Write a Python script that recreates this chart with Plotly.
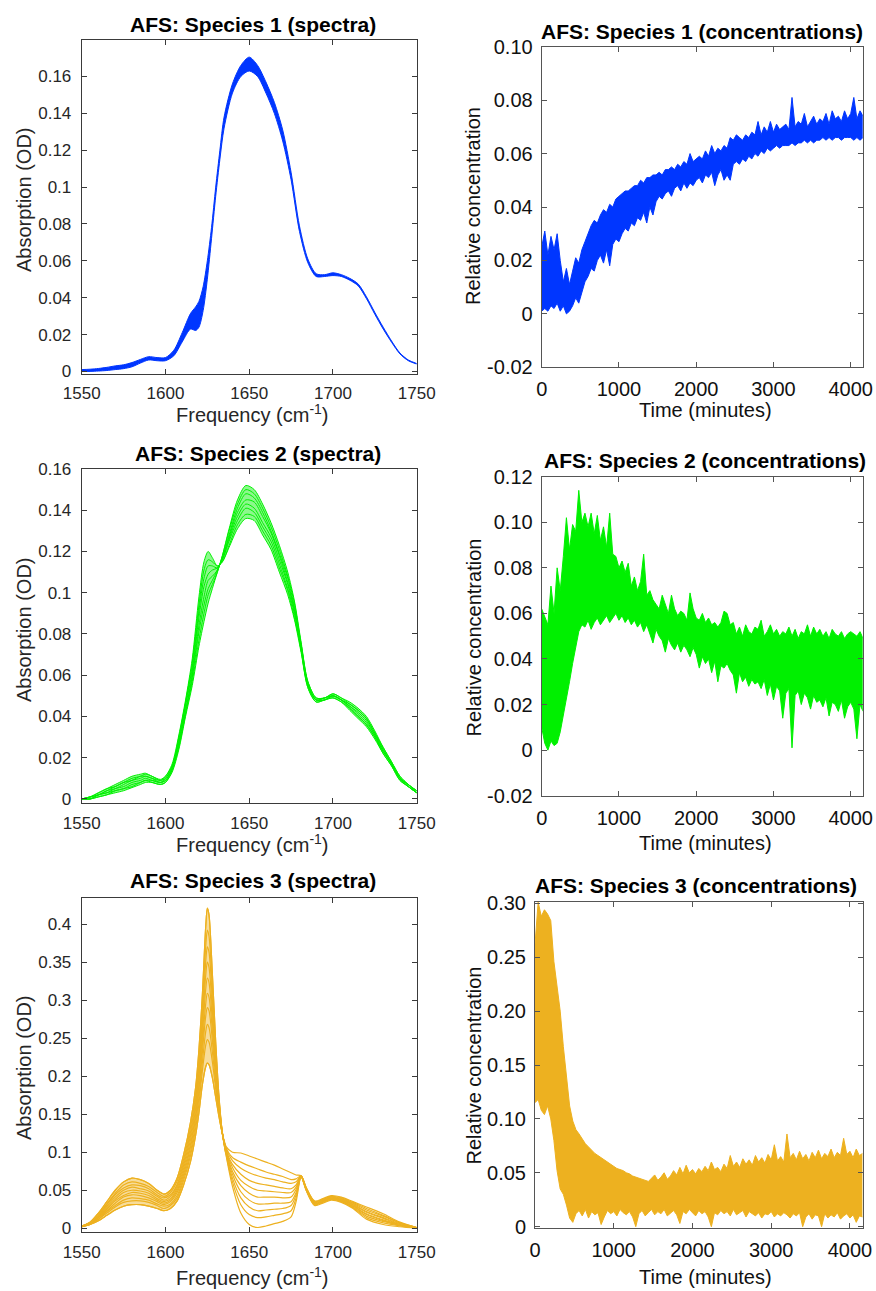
import plotly.graph_objects as go

FONT = "Liberation Sans, Arial, Helvetica, sans-serif"
BLUE = "#0036ff"
GREEN = "#00f000"
GOLD = "#EDB120"

# ---------------- Species 1 spectra (envelope of the family) ----------------
freq1 = [1550, 1555, 1560, 1565, 1570, 1575, 1580, 1585, 1590, 1595,
         1600, 1605, 1610, 1615, 1618, 1620, 1622.5, 1625, 1627.5, 1630,
         1632.5, 1635, 1640, 1645, 1650, 1655, 1660, 1665, 1670, 1675,
         1680, 1685, 1690, 1695, 1700, 1705, 1710, 1715, 1720, 1725,
         1730, 1735, 1740, 1745, 1750]
spec1_high = [.0010, .0012, .0016, .0022, .0030, .0036, .0048, .0065, .0080, .0075,
              .0075, .0115, .0210, .0315, .0350, .0380, .0460, .0600, .0780, .1000,
              .1200, .1380, .1560, .1660, .1705, .1660, .1570, .1460, .1310, .1080,
              .0790, .0610, .0530, .0525, .0535, .0525, .0505, .0475, .0405, .0320,
              .0240, .0165, .0100, .0062, .0043]
spec1_low = [.0000, .0000, .0002, .0005, .0010, .0015, .0025, .0045, .0062, .0058,
             .0058, .0085, .0160, .0230, .0222, .0240, .0330, .0500, .0720, .0950,
             .1150, .1320, .1510, .1600, .1630, .1600, .1510, .1400, .1250, .1040,
             .0760, .0590, .0515, .0515, .0520, .0515, .0495, .0465, .0395, .0310,
             .0230, .0158, .0095, .0058, .0040]

# ---------------- Species 2 spectra ----------------
freq2 = [1550, 1555, 1560, 1565, 1570, 1575, 1580, 1585, 1588, 1592,
         1597, 1600, 1604, 1608, 1612, 1616, 1620, 1623, 1625.5, 1628,
         1631, 1634, 1638, 1643, 1648, 1653, 1658, 1663, 1668, 1673,
         1677, 1681, 1685, 1690, 1695, 1700, 1705, 1710, 1715, 1720,
         1725, 1730, 1735, 1740, 1745, 1750]
spec2_a = [.000, .000, .001, .002, .003, .004, .0055, .007, .008, .008,
           .007, .008, .013, .024, .040, .055, .074, .086, .095, .102,
           .110, .118, .131, .145, .152, .150, .143, .134, .123, .110,
           .096, .076, .057, .049, .049, .051, .049, .047, .044, .040,
           .033, .025, .018, .011, .007, .004]
spec2_b = [.000, .000, .001, .002, .004, .005, .006, .008, .009, .008,
           .007, .008, .014, .025, .041, .057, .077, .090, .099, .104,
           .110, .118, .130, .143, .150, .148, .141, .132, .121, .108,
           .095, .075, .057, .049, .049, .051, .049, .046, .043, .039,
           .032, .025, .018, .011, .007, .004]
spec2_c = [.000, .000, .002, .003, .004, .005, .007, .008, .009, .009,
           .008, .009, .014, .026, .042, .059, .081, .094, .102, .106,
           .111, .117, .128, .141, .148, .146, .139, .130, .119, .107,
           .093, .075, .056, .048, .049, .050, .048, .046, .043, .039,
           .032, .024, .017, .010, .007, .004]
spec2_d = [.000, .000, .002, .003, .005, .006, .008, .009, .010, .009,
           .008, .009, .015, .027, .043, .060, .084, .098, .106, .108,
           .111, .117, .127, .139, .145, .144, .137, .129, .118, .105,
           .092, .074, .056, .048, .049, .050, .048, .045, .042, .038,
           .031, .024, .017, .010, .007, .003]
spec2_e = [.000, .001, .002, .004, .005, .007, .009, .010, .011, .010,
           .008, .010, .015, .028, .045, .062, .088, .103, .109, .111,
           .112, .116, .126, .137, .143, .141, .134, .127, .116, .104,
           .091, .073, .055, .048, .048, .050, .048, .045, .041, .037,
           .031, .023, .017, .010, .006, .003]
spec2_f = [.000, .001, .002, .004, .006, .008, .009, .011, .011, .010,
           .009, .010, .016, .029, .046, .064, .091, .107, .113, .113,
           .112, .116, .125, .135, .141, .139, .132, .125, .114, .102,
           .090, .072, .055, .048, .048, .050, .048, .044, .040, .036,
           .030, .023, .017, .010, .006, .003]
spec2_g = [.000, .001, .003, .005, .006, .008, .010, .011, .012, .011,
           .009, .011, .016, .030, .047, .066, .094, .111, .116, .115,
           .113, .115, .123, .133, .138, .137, .130, .123, .112, .101,
           .088, .072, .054, .047, .048, .049, .047, .044, .040, .036,
           .030, .022, .016, .009, .006, .003]
spec2_h = [.000, .001, .003, .005, .007, .009, .011, .012, .0125, .011,
           .0095, .011, .017, .031, .048, .068, .098, .115, .120, .117,
           .113, .115, .122, .131, .136, .135, .128, .121, .110, .099,
           .087, .071, .054, .047, .048, .049, .047, .043, .039, .035,
           .029, .022, .016, .009, .006, .003]

# ---------------- Species 3 spectra ----------------
freq3 = [1550, 1555, 1560, 1565, 1570, 1575, 1580, 1585, 1590, 1595,
         1599, 1603, 1607, 1611, 1615, 1618, 1620, 1622, 1624, 1625,
         1626, 1628, 1630, 1632, 1634, 1636, 1640, 1645, 1650, 1655,
         1660, 1665, 1670, 1675, 1678, 1681, 1684, 1689, 1694, 1699,
         1705, 1712, 1720, 1730, 1740, 1750]
spec3_01 = [.002, .005, .010, .017, .024, .029, .031, .031, .029, .026,
            .023, .026, .036, .058, .088, .122, .152, .188, .212, .217,
            .215, .198, .172, .146, .124, .108, .100, .099, .095, .091,
            .087, .083, .078, .073, .070, .069, .054, .036, .039, .043,
            .041, .035, .028, .019, .008, .001]
spec3_02 = [.002, .005, .012, .020, .028, .034, .036, .036, .034, .030,
            .026, .030, .040, .064, .096, .131, .164, .206, .240, .248,
            .245, .219, .183, .150, .124, .107, .093, .087, .082, .078,
            .074, .071, .068, .064, .065, .069, .053, .035, .038, .042,
            .040, .034, .026, .017, .007, .001]
spec3_03 = [.002, .006, .012, .022, .030, .037, .040, .039, .037, .032,
            .029, .032, .043, .068, .101, .138, .173, .217, .258, .268,
            .264, .232, .190, .152, .124, .106, .089, .079, .073, .069,
            .066, .064, .061, .059, .061, .069, .053, .035, .038, .042,
            .039, .033, .024, .016, .007, .001]
spec3_04 = [.002, .006, .014, .023, .033, .041, .044, .043, .040, .035,
            .031, .035, .047, .072, .107, .145, .182, .230, .278, .290,
            .286, .247, .198, .155, .124, .104, .084, .071, .063, .059,
            .057, .055, .053, .052, .057, .069, .053, .034, .037, .041,
            .038, .032, .022, .014, .006, .001]
spec3_05 = [.002, .006, .014, .025, .036, .043, .047, .046, .043, .037,
            .033, .037, .050, .076, .111, .150, .189, .241, .294, .309,
            .304, .260, .205, .158, .124, .103, .080, .063, .055, .050,
            .049, .048, .047, .047, .054, .068, .052, .033, .036, .040,
            .038, .031, .021, .013, .005, .000]
spec3_06 = [.003, .007, .015, .027, .038, .047, .050, .049, .046, .039,
            .035, .039, .053, .080, .117, .157, .198, .252, .313, .329,
            .323, .273, .212, .160, .125, .103, .075, .056, .046, .041,
            .041, .041, .040, .041, .051, .068, .052, .033, .036, .040,
            .037, .030, .019, .011, .005, .000]
spec3_07 = [.003, .007, .016, .029, .041, .050, .054, .052, .049, .042,
            .037, .042, .056, .084, .122, .163, .206, .264, .331, .350,
            .343, .287, .219, .163, .125, .102, .071, .048, .037, .032,
            .032, .033, .033, .035, .047, .068, .051, .032, .035, .039,
            .036, .029, .018, .010, .004, .000]
spec3_08 = [.003, .007, .017, .031, .044, .053, .057, .056, .052, .044,
            .040, .044, .058, .088, .127, .169, .214, .276, .349, .370,
            .363, .301, .227, .166, .125, .101, .066, .040, .028, .023,
            .024, .025, .026, .030, .044, .068, .051, .032, .035, .039,
            .036, .028, .016, .009, .004, .000]
spec3_09 = [.003, .008, .019, .032, .046, .057, .061, .059, .055, .047,
            .042, .047, .062, .092, .133, .176, .223, .289, .369, .392,
            .384, .316, .235, .168, .125, .099, .061, .031, .018, .014,
            .015, .017, .019, .023, .040, .068, .050, .031, .034, .038,
            .035, .027, .014, .007, .003, .000]
spec3_10 = [.003, .008, .020, .035, .050, .061, .066, .064, .059, .050,
            .045, .050, .066, .098, .140, .185, .235, .305, .395, .421,
            .412, .335, .245, .172, .125, .098, .055, .020, .005, .001,
            .003, .006, .009, .015, .035, .068, .050, .030, .033, .037,
            .034, .026, .012, .005, .002, .000]

# ---------------- Concentrations (upper / lower edges of the trace bundle) ----------------
time_c = [0, 40, 80, 120, 160, 200, 240, 280, 320, 360,
          400, 440, 480, 520, 560, 600, 640, 680, 720, 760,
          800, 840, 880, 920, 960, 1000, 1040, 1080, 1120, 1160,
          1200, 1240, 1280, 1320, 1360, 1400, 1440, 1480, 1520, 1560,
          1600, 1640, 1680, 1720, 1760, 1800, 1840, 1880, 1920, 1960,
          2000, 2040, 2080, 2120, 2160, 2200, 2240, 2280, 2320, 2360,
          2400, 2440, 2480, 2520, 2560, 2600, 2640, 2680, 2720, 2760,
          2800, 2840, 2880, 2920, 2960, 3000, 3040, 3080, 3120, 3160,
          3200, 3240, 3280, 3320, 3360, 3400, 3440, 3480, 3520, 3560,
          3600, 3640, 3680, 3720, 3760, 3800, 3840, 3880, 3920, 3960,
          4000, 4040, 4080, 4120, 4160]

conc1_upper = [.025, .031, .022, .029, .024, .030, .020, .012, .017, .011,
               .016, .021, .019, .024, .027, .030, .033, .035, .034, .037,
               .039, .038, .041, .040, .043, .044, .045, .046, .046, .047,
               .048, .048, .050, .049, .051, .051, .052, .052, .053, .052,
               .054, .054, .055, .054, .056, .055, .057, .056, .060, .057,
               .058, .059, .058, .061, .059, .063, .060, .062, .061, .063,
               .062, .066, .065, .067, .066, .065, .067, .066, .068, .067,
               .072, .067, .070, .068, .072, .068, .071, .069, .070, .071,
               .069, .081, .070, .072, .071, .075, .070, .072, .074, .071,
               .073, .072, .075, .071, .076, .073, .074, .072, .076, .073,
               .075, .081, .073, .076, .074]
conc1_lower = [.001, .002, .001, .003, .002, .004, .001, .003, .000, .001,
               .003, .006, .004, .008, .012, .014, .017, .016, .020, .022,
               .019, .024, .018, .026, .028, .027, .030, .032, .031, .034,
               .033, .036, .035, .038, .034, .040, .037, .042, .044, .043,
               .045, .046, .044, .047, .048, .046, .049, .047, .049, .048,
               .050, .051, .049, .052, .051, .053, .048, .052, .054, .050,
               .052, .050, .056, .057, .056, .058, .057, .059, .058, .060,
               .059, .061, .060, .062, .061, .062, .063, .062, .063, .063,
               .063, .064, .063, .064, .064, .065, .064, .065, .064, .065,
               .065, .066, .065, .066, .065, .066, .066, .065, .066, .066,
               .066, .065, .066, .065, .066]

conc2_upper = [.062, .058, .055, .072, .060, .080, .070, .085, .102, .088,
               .099, .096, .114, .100, .104, .098, .104, .095, .103, .092,
               .098, .089, .104, .086, .085, .080, .083, .078, .082, .072,
               .076, .070, .074, .086, .068, .070, .066, .064, .062, .068,
               .064, .060, .068, .062, .059, .061, .060, .057, .069, .062,
               .058, .057, .060, .056, .058, .055, .056, .054, .056, .061,
               .060, .055, .056, .051, .054, .050, .055, .052, .051, .054,
               .053, .057, .050, .052, .055, .051, .053, .050, .052, .051,
               .054, .050, .053, .049, .052, .051, .055, .050, .054, .051,
               .053, .050, .052, .049, .053, .051, .050, .052, .049, .051,
               .052, .051, .050, .052, .049]
conc2_lower = [.010, .003, .000, .004, .002, .003, .008, .015, .022, .030,
               .038, .045, .052, .055, .054, .057, .053, .056, .058, .055,
               .057, .059, .056, .058, .060, .057, .059, .056, .058, .055,
               .057, .054, .056, .052, .055, .051, .047, .053, .050, .048,
               .043, .049, .046, .044, .047, .043, .046, .044, .041, .045,
               .042, .036, .041, .038, .040, .034, .039, .030, .037, .036,
               .038, .035, .033, .025, .034, .030, .032, .028, .031, .029,
               .030, .027, .031, .024, .029, .022, .028, .026, .014, .025,
               .027, .001, .024, .026, .020, .025, .023, .018, .024, .021,
               .022, .019, .023, .015, .021, .020, .017, .022, .014, .019,
               .021, .018, .005, .020, .017]

conc3_upper = [.262, .301, .288, .294, .290, .284, .246, .225, .200, .167,
               .138, .112, .098, .090, .086, .081, .077, .074, .071, .068,
               .066, .064, .062, .060, .058, .056, .054, .053, .052, .050,
               .049, .047, .046, .045, .044, .043, .042, .045, .048, .043,
               .046, .050, .044, .047, .052, .048, .055, .049, .057, .050,
               .053, .049, .054, .051, .056, .052, .060, .053, .055, .051,
               .058, .054, .066, .056, .060, .055, .063, .058, .062, .057,
               .066, .060, .064, .059, .067, .062, .076, .061, .065, .060,
               .086, .064, .068, .062, .070, .063, .067, .061, .069, .064,
               .071, .063, .068, .065, .072, .064, .069, .066, .082, .067,
               .070, .064, .072, .066, .068]
conc3_lower = [.115, .118, .108, .104, .112, .100, .080, .052, .035, .030,
               .020, .008, .004, .012, .015, .010, .016, .008, .014, .011,
               .013, .002, .009, .015, .012, .014, .010, .016, .013, .011,
               .014, .009, .000, .012, .015, .010, .013, .016, .011, .014,
               .012, .016, .010, .013, .015, .011, .003, .014, .012, .016,
               .013, .010, .015, .012, .014, .009, .000, .013, .011, .015,
               .012, .014, .010, .016, .011, .013, .015, .009, .014, .012,
               .010, .013, .008, .012, .011, .014, .009, .012, .010, .013,
               .011, .008, .012, .010, .013, .000, .009, .012, .007, .011,
               .010, .000, .012, .008, .011, .009, .013, .007, .010, .012,
               .008, .011, .004, .010, .009]

# ---------------- Tick labels ----------------
freq_ticks = [1550, 1600, 1650, 1700, 1750]
time_ticks = [0, 1000, 2000, 3000, 4000]
abs12_ticks = [0, 0.02, 0.04, 0.06, 0.08, 0.1, 0.12, 0.14, 0.16]
abs12_text = ["0", "0.02", "0.04", "0.06", "0.08", "0.1", "0.12", "0.14", "0.16"]
abs3_ticks = [0, 0.05, 0.1, 0.15, 0.2, 0.25, 0.3, 0.35, 0.4]
abs3_text = ["0", "0.05", "0.1", "0.15", "0.2", "0.25", "0.3", "0.35", "0.4"]
c1_ticks = [-0.02, 0, 0.02, 0.04, 0.06, 0.08, 0.10]
c1_text = ["-0.02", "0", "0.02", "0.04", "0.06", "0.08", "0.10"]
c2_ticks = [-0.02, 0, 0.02, 0.04, 0.06, 0.08, 0.10, 0.12]
c2_text = ["-0.02", "0", "0.02", "0.04", "0.06", "0.08", "0.10", "0.12"]
c3_ticks = [0, 0.05, 0.10, 0.15, 0.20, 0.25, 0.30]
c3_text = ["0", "0.05", "0.10", "0.15", "0.20", "0.25", "0.30"]

titles = ["AFS: Species 1 (spectra)", "AFS: Species 1 (concentrations)",
          "AFS: Species 2 (spectra)", "AFS: Species 2 (concentrations)",
          "AFS: Species 3 (spectra)", "AFS: Species 3 (concentrations)"]

for s in [spec1_high, spec1_low]:
    assert len(s) == len(freq1)
for s in [spec2_a, spec2_b, spec2_c, spec2_d, spec2_e, spec2_f, spec2_g, spec2_h]:
    assert len(s) == len(freq2)
for s in [spec3_01, spec3_02, spec3_03, spec3_04, spec3_05, spec3_06, spec3_07,
          spec3_08, spec3_09, spec3_10]:
    assert len(s) == len(freq3)
for s in [conc1_upper, conc1_lower, conc2_upper, conc2_lower, conc3_upper, conc3_lower]:
    assert len(s) == len(time_c), len(s)

W, H = 876, 1291


def px(x):
    return x / W


def py(y):
    return 1 - y / H


fig = go.Figure()


def line(x, y, ax, color, fill=None, fillcolor=None, shape="spline", width=1.0):
    fig.add_trace(go.Scatter(
        x=x, y=y, mode="lines", xaxis="x" + ax, yaxis="y" + ax,
        line=dict(color=color, width=width, shape=shape,
                  smoothing=0.8 if shape == "spline" else None),
        fill=fill, fillcolor=(fillcolor or color) if fill else None,
        showlegend=False, hoverinfo="skip"))


# panel 1: species 1 spectra
line(freq1, spec1_low, "", BLUE)
line(freq1, spec1_high, "", BLUE, fill="tonexty")

# panel 2: species 1 concentrations
line(time_c, conc1_lower, "2", BLUE, shape="linear")
line(time_c, conc1_upper, "2", BLUE, fill="tonexty", shape="linear")

# panel 3: species 2 spectra
line(freq2, spec2_a, "3", GREEN)
line(freq2, spec2_h, "3", GREEN, fill="tonexty", fillcolor="rgba(0,240,0,0.45)")
for s in [spec2_b, spec2_c, spec2_d, spec2_e, spec2_f, spec2_g]:
    line(freq2, s, "3", GREEN)

# panel 4: species 2 concentrations
line(time_c, conc2_lower, "4", GREEN, shape="linear")
line(time_c, conc2_upper, "4", GREEN, fill="tonexty", shape="linear")

# panel 5: species 3 spectra (dense part of the family up to the 1636 crossing is shaded)
n_cross = freq3.index(1636) + 1
line(freq3[:n_cross], spec3_01[:n_cross], "5", GOLD, width=1.2)
line(freq3[:n_cross], spec3_10[:n_cross], "5", GOLD, fill="tonexty",
     fillcolor="rgba(237,177,32,0.45)", width=1.2)
for s in [spec3_01, spec3_02, spec3_03, spec3_04, spec3_05, spec3_06, spec3_07,
          spec3_08, spec3_09, spec3_10]:
    line(freq3, s, "5", GOLD, width=1.2)

# panel 6: species 3 concentrations
line(time_c, conc3_lower, "6", GOLD, shape="linear")
line(time_c, conc3_upper, "6", GOLD, fill="tonexty", shape="linear")


def axis(domain, rng, tickvals, ticktext, anchor, size, color, linecolor, standoff):
    return dict(domain=domain, range=rng, anchor=anchor, tickvals=tickvals, ticktext=ticktext,
                showline=True, linecolor=linecolor, linewidth=1, mirror="ticks",
                ticks="inside", ticklen=5, tickwidth=1, tickcolor=linecolor,
                showgrid=False, zeroline=False, fixedrange=True, automargin=False,
                ticklabelstandoff=standoff,
                tickfont=dict(family=FONT, size=size, color=color))


LT = "#262626"
RT = "#111111"
LL = "#3a3a3a"
RL = "#555555"

left_x = [px(81.7), px(416.7)]
right_x = [px(541.7), px(862.7)]
right_x3 = [px(535), px(862.7)]

layout = dict(
    width=W, height=H, autosize=False,
    margin=dict(l=0, r=0, t=0, b=0, pad=0, autoexpand=False),
    paper_bgcolor="white", plot_bgcolor="white",
    font=dict(family=FONT),
    xaxis=axis(left_x, [1550, 1750], freq_ticks, [str(v) for v in freq_ticks], "y", 17, LT, LL, 4),
    yaxis=axis([py(374), py(40)], [-0.0014, 0.1798], abs12_ticks, abs12_text, "x", 17, LT, LL, 6),
    xaxis2=axis(right_x, [0, 4155], time_ticks, [str(v) for v in time_ticks], "y2", 20, RT, RL, 4),
    yaxis2=axis([py(367.3), py(46.7)], [-0.02, 0.10], c1_ticks, c1_text, "x2", 20, RT, RL, 4),
    xaxis3=axis(left_x, [1550, 1750], freq_ticks, [str(v) for v in freq_ticks], "y3", 17, LT, LL, 4),
    yaxis3=axis([py(803.3), py(469)], [-0.0021, 0.16], abs12_ticks, abs12_text, "x3", 17, LT, LL, 6),
    xaxis4=axis(right_x, [0, 4155], time_ticks, [str(v) for v in time_ticks], "y4", 20, RT, RL, 4),
    yaxis4=axis([py(795.7), py(476.7)], [-0.02, 0.12], c2_ticks, c2_text, "x4", 20, RT, RL, 4),
    xaxis5=axis(left_x, [1550, 1750], freq_ticks, [str(v) for v in freq_ticks], "y5", 17, LT, LL, 4),
    yaxis5=axis([py(1232.3), py(897.7)], [-0.0053, 0.4346], abs3_ticks, abs3_text, "x5", 17, LT, LL, 6),
    xaxis6=axis(right_x3, [0, 4162], time_ticks, [str(v) for v in time_ticks], "y6", 20, RT, RL, 4),
    yaxis6=axis([py(1228.3), py(901.7)], [-0.0015, 0.3015], c3_ticks, c3_text, "x6", 20, RT, RL, 4),
)

ann = []


def text(t, x, y, size, color, angle=0, bold=False):
    ann.append(dict(text=("<b>%s</b>" % t) if bold else t, x=px(x), y=py(y),
                    xref="paper", yref="paper", xanchor="center", yanchor="middle",
                    showarrow=False, textangle=angle,
                    font=dict(family=FONT, size=size, color=color)))


# titles
text(titles[0], 252.5, 24, 21, "black", bold=True)
text(titles[1], 702, 31.7, 21, "black", bold=True)
text(titles[2], 258, 453.3, 21, "black", bold=True)
text(titles[3], 705, 460, 21, "black", bold=True)
text(titles[4], 252.5, 880, 21, "black", bold=True)
text(titles[5], 695.5, 885, 21, "black", bold=True)

# axis labels
FREQ = "Frequency (cm<sup>-1</sup>)"
TIME = "Time (minutes)"
for yy in [414, 843, 1276]:
    text(FREQ, 252.7, yy, 20, LT)
for yy in [410, 843, 1277]:
    text(TIME, 705, yy, 20, RT)
for yy in [200, 630, 1068]:
    text("Absorption (OD)", 24, yy, 20, LT, angle=-90)
for yy in [206, 637.5, 1065.5]:
    text("Relative concentration", 473, yy, 20, RT, angle=-90)

layout["annotations"] = ann
fig.update_layout(**layout)
fig.write_html("out.html")
